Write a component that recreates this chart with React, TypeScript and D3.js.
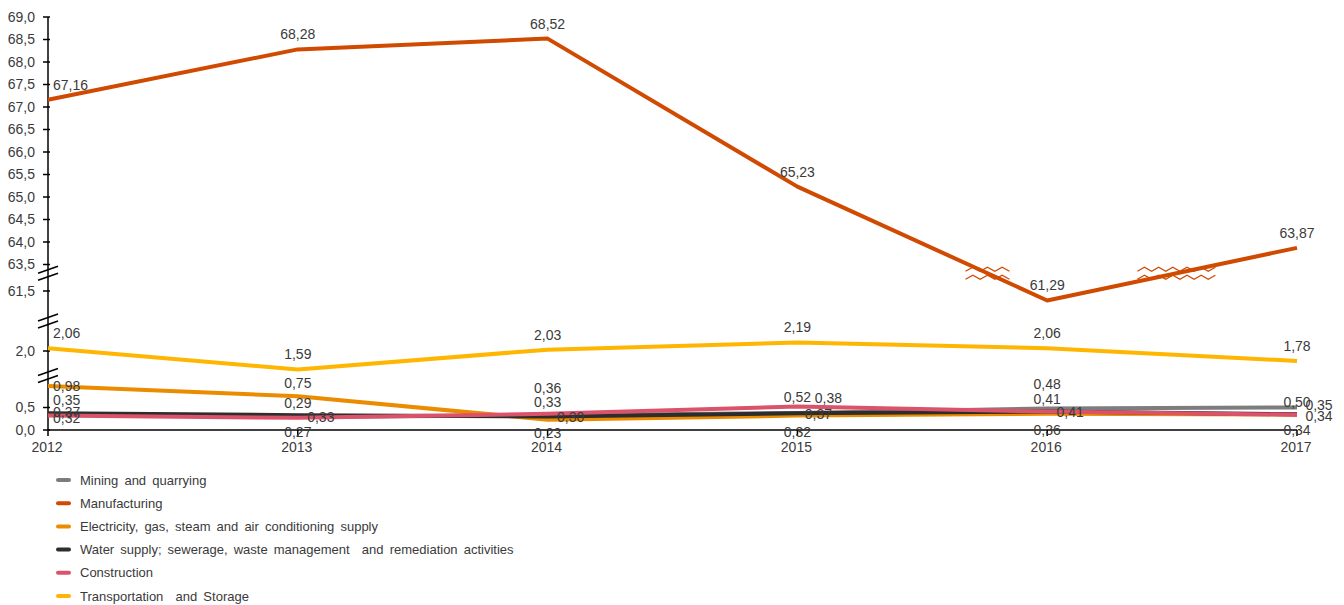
import React from "react";
import * as d3 from "d3";

const years = [2012, 2013, 2014, 2015, 2016, 2017];
const seriesNames = [
  "Mining and quarrying",
  "Manufacturing",
  "Electricity, gas, steam and air conditioning supply",
  "Water supply; sewerage, waste management  and remediation activities",
  "Construction",
  "Transportation  and Storage",
];
const mining = [0.35, 0.29, 0.33, 0.38, 0.48, 0.5];
const manufacturing = [67.16, 68.28, 68.52, 65.23, 61.29, 63.87];
const electricity = [0.98, 0.75, 0.23, 0.32, 0.36, 0.34];
const water = [0.37, 0.33, 0.3, 0.37, 0.41, 0.35];
const construction = [0.32, 0.27, 0.36, 0.52, 0.41, 0.34];
const transport = [2.06, 1.59, 2.03, 2.19, 2.06, 1.78];
const yTicks = [0, 0.5, 2.0, 61.5, 63.5, 64, 64.5, 65, 65.5, 66, 66.5, 67, 67.5, 68, 68.5, 69];
// break band centres (value units)
const axisBreaks = [1.33, 31.7, 62.6];

const colors = ["#7d7d7d", "#d04a02", "#eb8c00", "#2d2d2d", "#db536a", "#ffb600"];
const allSeries = [mining, manufacturing, electricity, water, construction, transport];

// label layout [dx, dy] per series per year
const labelOffsets: number[][][] = [
  [[0, -14], [0, -14], [0, -13], [31, -15], [0, -24], [0, -5]],
  [[0, -15], [0, -15], [0, -15], [0, -15], [0, -15], [0, -15]],
  [[0, 0], [0, -13], [0, 13], [0, 16], [0, 16], [0, 15]],
  [[0, -1], [23, 2], [23, 1], [21, 1], [23, 1], [22, -9]],
  [[0, 2], [0, 14], [0, -26], [0, -10], [0, -12], [22, 1]],
  [[0, -15], [0, -15], [0, -15], [0, -15], [0, -15], [0, -15]],
];

const fmt = (v: number, d: number) => v.toFixed(d).replace(".", ",");

export default function App() {
  const W = 1344, H = 605;
  const x = d3.scaleLinear().domain([2012, 2017]).range([48, 1297]);
  const y = d3
    .scaleLinear()
    .domain([0, 1.12, 1.55, 2.6, 60.9, 61.8, 63.4, 69])
    .range([430, 379.6, 371.25, 324, 318, 277.5, 269, 17]);
  const line = d3
    .line<number>()
    .x((_, i) => x(years[i]))
    .y((v) => y(v));
  const textColor = "#3a3a3a";
  const font = "'Liberation Sans', Arial, sans-serif";
  const x0 = x(2012);

  // where manufacturing crosses the upper break band
  const cy = y(62.6);
  const crossings: number[] = [];
  for (let i = 0; i < years.length - 1; i++) {
    const a = y(manufacturing[i]), b = y(manufacturing[i + 1]);
    if ((a - cy) * (b - cy) < 0) {
      const t = (cy - a) / (b - a);
      crossings.push(x(years[i]) + t * (x(years[i + 1]) - x(years[i])));
    }
  }
  const crossWidths = [44, 78];
  const wave = (cx: number, c: number, w: number) => {
    const pts: [number, number][] = [];
    const n = Math.round(w / 7);
    for (let k = 0; k <= n; k++) {
      const px = cx - w / 2 + (k * w) / n;
      pts.push([px, c + (k % 2 === 0 ? 2 : -2)]);
    }
    return d3.line()(pts) as string;
  };

  return (
    <svg width={W} height={H} style={{ display: "block", position: "absolute", left: 0, top: 0 }} fontFamily={font}>
      <rect width={W} height={H} fill="#fff" />
      {/* axes */}
      <line x1={x0} x2={x0} y1={y(69)} y2={y(0)} stroke="#000" strokeWidth={1.5} />
      <line x1={x0} x2={x(2017)} y1={y(0)} y2={y(0)} stroke="#000" strokeWidth={1.5} />
      {yTicks.map((t) => (
        <g key={t}>
          <line x1={x0 - 5} x2={x0 + 2} y1={y(t)} y2={y(t)} stroke="#000" strokeWidth={1.5} />
          <text x={35} y={y(t)} dy="0.35em" textAnchor="end" fontSize={14} fill={textColor}>
            {fmt(t, 1)}
          </text>
        </g>
      ))}
      {years.map((yr) => (
        <g key={yr}>
          <line x1={x(yr)} x2={x(yr)} y1={y(0)} y2={y(0) + 6} stroke="#000" strokeWidth={1.5} />
          <text x={x(yr) - 1} y={y(0) + 17} dy="0.35em" textAnchor="middle" fontSize={14} fill={textColor}>
            {yr}
          </text>
        </g>
      ))}
      {axisBreaks.map((b, i) => {
        const c = y(b);
        return (
          <g key={i} stroke="#000" strokeWidth={1.5}>
            <line x1={x0 - 10} y1={c + 0} x2={x0 + 10} y2={c - 7} />
            <line x1={x0 - 10} y1={c + 7} x2={x0 + 10} y2={c} />
          </g>
        );
      })}
      {/* series lines */}
      {allSeries.map((s, si) => (
        <path key={si} d={line(s) as string} fill="none" stroke={colors[si]} strokeWidth={4} strokeLinejoin="round" />
      ))}
      {crossings.map((cx, i) => (
        <g key={i} fill="none" stroke={colors[1]} strokeWidth={1.3}>
          <path d={wave(cx, cy - 4, crossWidths[i] ?? 50)} />
          <path d={wave(cx, cy + 4, crossWidths[i] ?? 50)} />
        </g>
      ))}
      {/* labels */}
      {allSeries.map((s, si) =>
        s.map((v, i) => {
          const [dx, dy] = labelOffsets[si][i];
          const first = i === 0;
          return (
            <text
              key={`${si}-${i}`}
              x={first ? x(years[i]) + 5 + dx : x(years[i]) + dx}
              y={y(v) + dy}
              dy="0.35em"
              textAnchor={first ? "start" : "middle"}
              fontSize={14}
              fill={textColor}
            >
              {fmt(v, 2)}
            </text>
          );
        })
      )}
      {/* legend */}
      {seriesNames.map((n, i) => {
        const ly = 480 + i * 23.2;
        return (
          <g key={n}>
            <line x1={58} x2={69} y1={ly} y2={ly} stroke={colors[i]} strokeWidth={4} strokeLinecap="round" />
            <text x={80} y={ly} dy="0.35em" fontSize={13} fill={textColor} style={{ whiteSpace: "pre", wordSpacing: "2.5px" }}>
              {n}
            </text>
          </g>
        );
      })}
    </svg>
  );
}
